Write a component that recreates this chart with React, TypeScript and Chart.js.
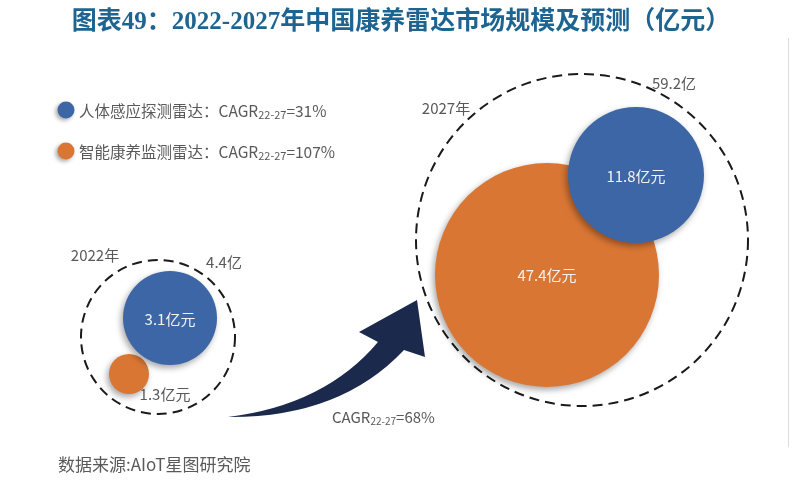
import React, { useEffect, useRef } from "react";
import { Chart, registerables } from "chart.js";

Chart.register(...registerables);

// ---- data ----
const years = ["2022年", "2027年"];
const seriesNames = ["人体感应探测雷达", "智能康养监测雷达"];
const seriesCagr = [31, 107];
const totalCagr = 68;
const humanSensing = [3.1, 11.8]; // 亿元
const healthMonitoring = [1.3, 47.4]; // 亿元
const totals = [4.4, 59.2]; // 亿

const titleText = "图表49：2022-2027年中国康养雷达市场规模及预测（亿元）";
const sourceText = "数据来源:AIoT星图研究院";

// ---- layout (positions in scale units, radii in px) ----
const bluePos = [
  { x: 170, y: 318, r: 47 },
  { x: 636, y: 175, r: 68 },
];
const orangePos = [
  { x: 129, y: 374, r: 20 },
  { x: 547, y: 275, r: 112 },
];
const totalPos = [
  { x: 158, y: 337, r: 77 },
  { x: 582, y: 240, r: 166 },
];

const BLUE = "#3d66a6";
const ORANGE = "#d97634";
const NAVY = "#1b2a4c";
const GRAY = "#595959";
const CJK = '"Noto Sans CJK SC", "Noto Sans", sans-serif';

type Part = { text: string; size: number; dy?: number };

function drawRich(ctx: CanvasRenderingContext2D, x: number, y: number, parts: Part[], color: string, align: "left" | "center" = "left") {
  ctx.save();
  ctx.fillStyle = color;
  ctx.textBaseline = "middle";
  ctx.textAlign = "left";
  let total = 0;
  for (const p of parts) {
    ctx.font = `${p.size}px ${CJK}`;
    total += ctx.measureText(p.text).width;
  }
  let cx = align === "center" ? x - total / 2 : x;
  for (const p of parts) {
    ctx.font = `${p.size}px ${CJK}`;
    ctx.fillText(p.text, cx, y + (p.dy || 0));
    cx += ctx.measureText(p.text).width;
  }
  ctx.restore();
}

const cagrParts = (v: number, size: number): Part[] => [
  { text: "CAGR", size },
  { text: "22-27", size: Math.round(size * 0.68), dy: 4 },
  { text: `=${v}%`, size },
];

const decorPlugin = {
  id: "decor",
  beforeDatasetsDraw(chart: any) {
    const ctx: CanvasRenderingContext2D = chart.ctx;
    const xs = chart.scales.x;
    const ys = chart.scales.y;
    const P = (x: number, y: number) => [xs.getPixelForValue(x), ys.getPixelForValue(y)];
    // right border line
    ctx.save();
    ctx.strokeStyle = "#dcdcdc";
    ctx.lineWidth = 1;
    const [lx, ly1] = P(788.5, 38);
    const [, ly2] = P(788.5, 447);
    ctx.beginPath();
    ctx.moveTo(lx, ly1);
    ctx.lineTo(lx, ly2);
    ctx.stroke();
    ctx.restore();

    // curved arrow from 2022 group towards 2027 group
    const T = P(228, 417);
    const cB = P(340, 418);
    const B = P(404, 350);
    const R = P(425, 357);
    const Tip = P(417, 300);
    const L = P(359, 332);
    const A = P(378, 342);
    const cA = P(325, 405);
    ctx.save();
    ctx.fillStyle = NAVY;
    ctx.beginPath();
    ctx.moveTo(T[0], T[1]);
    ctx.quadraticCurveTo(cB[0], cB[1], B[0], B[1]);
    ctx.lineTo(R[0], R[1]);
    ctx.lineTo(Tip[0], Tip[1]);
    ctx.lineTo(L[0], L[1]);
    ctx.lineTo(A[0], A[1]);
    ctx.quadraticCurveTo(cA[0], cA[1], T[0], T[1]);
    ctx.closePath();
    ctx.fill();
    ctx.restore();
  },
  beforeDatasetDraw(chart: any, args: any) {
    const ctx: CanvasRenderingContext2D = chart.ctx;
    ctx.save();
    if (args.index === 2) {
      ctx.setLineDash([10, 6]);
    } else {
      ctx.shadowColor = "rgba(0,0,0,0.35)";
      ctx.shadowBlur = 6;
      ctx.shadowOffsetX = -2;
      ctx.shadowOffsetY = 3;
    }
  },
  afterDatasetDraw(chart: any) {
    chart.ctx.restore();
  },
  afterDatasetsDraw(chart: any) {
    const ctx: CanvasRenderingContext2D = chart.ctx;
    const xs = chart.scales.x;
    const ys = chart.scales.y;
    const P = (x: number, y: number) => [xs.getPixelForValue(x), ys.getPixelForValue(y)];

    // title
    ctx.save();
    ctx.fillStyle = "#1e6491";
    ctx.font = `bold 25px "Liberation Serif", "DejaVu Serif", "Noto Sans CJK SC", serif`;
    ctx.textAlign = "center";
    ctx.textBaseline = "middle";
    ctx.fillText(titleText, 401, 23);
    ctx.restore();

    // legend
    const legendY = [110, 151];
    const colors = [BLUE, ORANGE];
    for (let i = 0; i < 2; i++) {
      ctx.save();
      ctx.shadowColor = "rgba(0,0,0,0.35)";
      ctx.shadowBlur = 4;
      ctx.shadowOffsetX = -2;
      ctx.shadowOffsetY = 2;
      ctx.fillStyle = colors[i];
      ctx.beginPath();
      ctx.arc(66, legendY[i], 8.5, 0, Math.PI * 2);
      ctx.fill();
      ctx.restore();
      drawRich(ctx, 79, legendY[i] + 1, [{ text: `${seriesNames[i]}：`, size: 15.5 }, ...cagrParts(seriesCagr[i], 15.5)], GRAY);
    }

    // values inside bubbles
    const meta0 = chart.getDatasetMeta(0);
    const meta1 = chart.getDatasetMeta(1);
    const meta2 = chart.getDatasetMeta(2);
    ctx.save();
    ctx.textAlign = "center";
    ctx.textBaseline = "middle";
    ctx.font = `15px ${CJK}`;
    ctx.fillStyle = "#f2f2f2";
    meta0.data.forEach((el: any, i: number) => {
      ctx.fillText(`${humanSensing[i]}亿元`, el.x, el.y + 1);
    });
    // orange labels: small one outside (below-right), big one inside
    const o0 = meta1.data[0];
    ctx.fillStyle = GRAY;
    ctx.fillText(`${healthMonitoring[0]}亿元`, o0.x + 36, o0.y + 20);
    const o1 = meta1.data[1];
    ctx.fillStyle = "#f2f2f2";
    ctx.fillText(`${healthMonitoring[1]}亿元`, o1.x, o1.y);

    // totals & years around dashed circles
    ctx.fillStyle = GRAY;
    const t0 = meta2.data[0];
    const t1 = meta2.data[1];
    ctx.fillText(years[0], t0.x - 63, t0.y - 82);
    ctx.fillText(`${totals[0]}亿`, t0.x + 66, t0.y - 75);
    ctx.fillText(years[1], t1.x - 136, t1.y - 132);
    ctx.fillText(`${totals[1]}亿`, t1.x + 92, t1.y - 157);
    ctx.restore();

    // total CAGR under arrow
    const [cx, cy] = P(332, 417);
    drawRich(ctx, cx, cy, cagrParts(totalCagr, 15), GRAY);

    // source
    ctx.save();
    ctx.fillStyle = GRAY;
    ctx.font = `17px ${CJK}`;
    ctx.textBaseline = "middle";
    ctx.textAlign = "left";
    ctx.fillText(sourceText, 58, 465);
    ctx.restore();
  },
};

export default function App() {
  const ref = useRef<HTMLCanvasElement | null>(null);
  useEffect(() => {
    if (!ref.current) return;
    const mk = (pos: { x: number; y: number; r: number }[]) => pos.map((p) => ({ x: p.x, y: p.y, r: p.r }));
    const chart = new Chart(ref.current, {
      type: "bubble",
      data: {
        datasets: [
          {
            label: seriesNames[0],
            data: mk(bluePos),
            backgroundColor: BLUE,
            borderWidth: 0,
            order: 0,
            clip: false,
          },
          {
            label: seriesNames[1],
            data: mk(orangePos),
            backgroundColor: ORANGE,
            borderWidth: 0,
            order: 1,
            clip: false,
          },
          {
            label: "合计",
            data: mk(totalPos),
            backgroundColor: "rgba(0,0,0,0)",
            borderColor: "#1a1a1a",
            borderWidth: 2,
            order: 2,
            clip: false,
          },
        ],
      },
      options: {
        responsive: false,
        animation: false,
        events: [],
        layout: { padding: 0, autoPadding: false },
        plugins: {
          legend: { display: false },
          title: { display: false },
          tooltip: { enabled: false },
        },
        scales: {
          x: { type: "linear", min: 0, max: 812, display: false },
          y: { type: "linear", min: 0, max: 500, reverse: true, display: false },
        },
      },
      plugins: [decorPlugin],
    });
    return () => chart.destroy();
  }, []);
  return (
    <div style={{ position: "fixed", left: 0, top: 0, width: 812, height: 500, background: "#fff", overflow: "hidden" }}>
      <canvas ref={ref} width={812} height={500} />
    </div>
  );
}
